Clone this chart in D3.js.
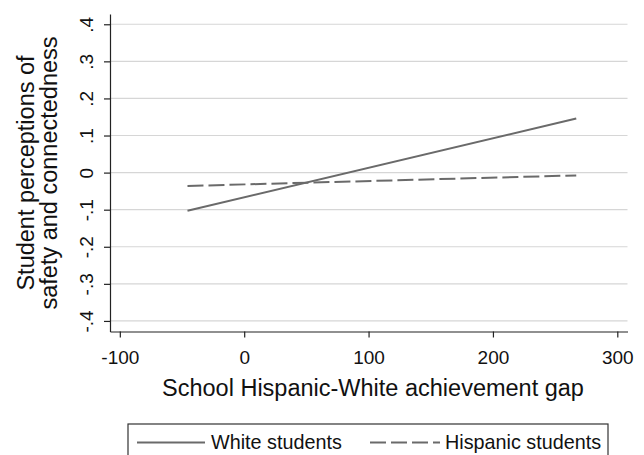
<!DOCTYPE html>
<head>
    <meta charset="utf-8">
    <title>Perceptions chart</title>
    <script src="https://d3js.org/d3.v7.min.js"></script>
    <style>
        body { margin: 0; background: #fff; }
        svg { display: block; font-family: "Liberation Sans", Arial, sans-serif; }
    </style>
</head>

<body>
<script>
// values
const seriesNames = ["White students", "Hispanic students"];
const gapPoints = [-45.6, 267];
const whiteValues = [-0.103, 0.146];
const hispanicValues = [-0.036, -0.0075];
const xTicks = [-100, 0, 100, 200, 300];
const yTicks = [-0.4, -0.3, -0.2, -0.1, 0, 0.1, 0.2, 0.3, 0.4];
const yTickLabels = ["-.4", "-.3", "-.2", "-.1", "0", ".1", ".2", ".3", ".4"];

const w = 644;
const h = 455;
const lineColor = "#6a6a6a";

const svg = d3.select("body")
    .append("svg")
    .attr("width", w)
    .attr("height", h);

// scales
const xScale = d3.scaleLinear()
    .domain([-107.9, 308.2])
    .range([110, 627.5]);

const yScale = d3.scaleLinear()
    .domain([-0.4285, 0.4277])
    .range([331.5, 14]);

// grid lines
svg.append("g")
    .selectAll("line")
    .data(yTicks)
    .enter()
    .append("line")
    .attr("x1", xScale.range()[0])
    .attr("x2", xScale.range()[1])
    .attr("y1", d => yScale(d))
    .attr("y2", d => yScale(d))
    .attr("stroke", "#d6d6d6")
    .attr("stroke-width", 1.2);

// axes
const xAxis = d3.axisBottom(xScale)
    .tickValues(xTicks)
    .tickFormat(d => String(d))
    .tickSize(6)
    .tickSizeOuter(0)
    .tickPadding(13);

const yAxis = d3.axisLeft(yScale)
    .tickValues(yTicks)
    .tickFormat((d, i) => yTickLabels[i])
    .tickSize(6)
    .tickSizeOuter(0);

const gx = svg.append("g")
    .attr("transform", "translate(0," + yScale.range()[0] + ")")
    .call(xAxis);
gx.selectAll("text")
    .attr("font-size", 19)
    .attr("fill", "#111");

const gy = svg.append("g")
    .attr("transform", "translate(" + xScale.range()[0] + ",0)")
    .call(yAxis);
gy.selectAll("text")
    .attr("font-size", 19)
    .attr("fill", "#111")
    .attr("text-anchor", "middle")
    .attr("dy", 0)
    .attr("x", 0)
    .attr("transform", "translate(-17,0) rotate(-90)");

svg.selectAll(".domain, .tick line")
    .attr("stroke", "#222")
    .attr("stroke-width", 1.2);

// the two fitted lines
const line = d3.line()
    .x(d => xScale(d[0]))
    .y(d => yScale(d[1]));

const white = gapPoints.map((g, i) => [g, whiteValues[i]]);
const hispanic = gapPoints.map((g, i) => [g, hispanicValues[i]]);

svg.append("path")
    .datum(white)
    .attr("d", line)
    .attr("fill", "none")
    .attr("stroke", lineColor)
    .attr("stroke-width", 2);

svg.append("path")
    .datum(hispanic)
    .attr("d", line)
    .attr("fill", "none")
    .attr("stroke", lineColor)
    .attr("stroke-width", 2)
    .attr("stroke-dasharray", "16,5");

// axis titles
svg.append("text")
    .attr("x", 373)
    .attr("y", 396)
    .attr("text-anchor", "middle")
    .attr("font-size", 23.5)
    .attr("fill", "#111")
    .text("School Hispanic-White achievement gap");

svg.append("text")
    .attr("transform", "translate(34,173) rotate(-90)")
    .attr("text-anchor", "middle")
    .attr("font-size", 23.5)
    .attr("fill", "#111")
    .text("Student perceptions of");

svg.append("text")
    .attr("transform", "translate(57,173) rotate(-90)")
    .attr("text-anchor", "middle")
    .attr("font-size", 23.5)
    .attr("fill", "#111")
    .text("safety and connectedness");

// legend (box runs off the bottom of the picture)
const legend = svg.append("g");

legend.append("rect")
    .attr("x", 128)
    .attr("y", 424)
    .attr("width", 480)
    .attr("height", 40)
    .attr("fill", "#fff")
    .attr("stroke", "#333")
    .attr("stroke-width", 1.2);

const legendItems = [
    {name: seriesNames[0], x1: 137, x2: 205, tx: 211, dash: null},
    {name: seriesNames[1], x1: 370, x2: 440, tx: 445, dash: "16,5"}
];

legend.selectAll("line")
    .data(legendItems)
    .enter()
    .append("line")
    .attr("x1", d => d.x1)
    .attr("x2", d => d.x2)
    .attr("y1", 442.5)
    .attr("y2", 442.5)
    .attr("stroke", lineColor)
    .attr("stroke-width", 2)
    .attr("stroke-dasharray", d => d.dash);

legend.selectAll("text")
    .data(legendItems)
    .enter()
    .append("text")
    .attr("x", d => d.tx)
    .attr("y", 448.5)
    .attr("font-size", 19.8)
    .attr("fill", "#111")
    .text(d => d.name);
</script>
</body>
